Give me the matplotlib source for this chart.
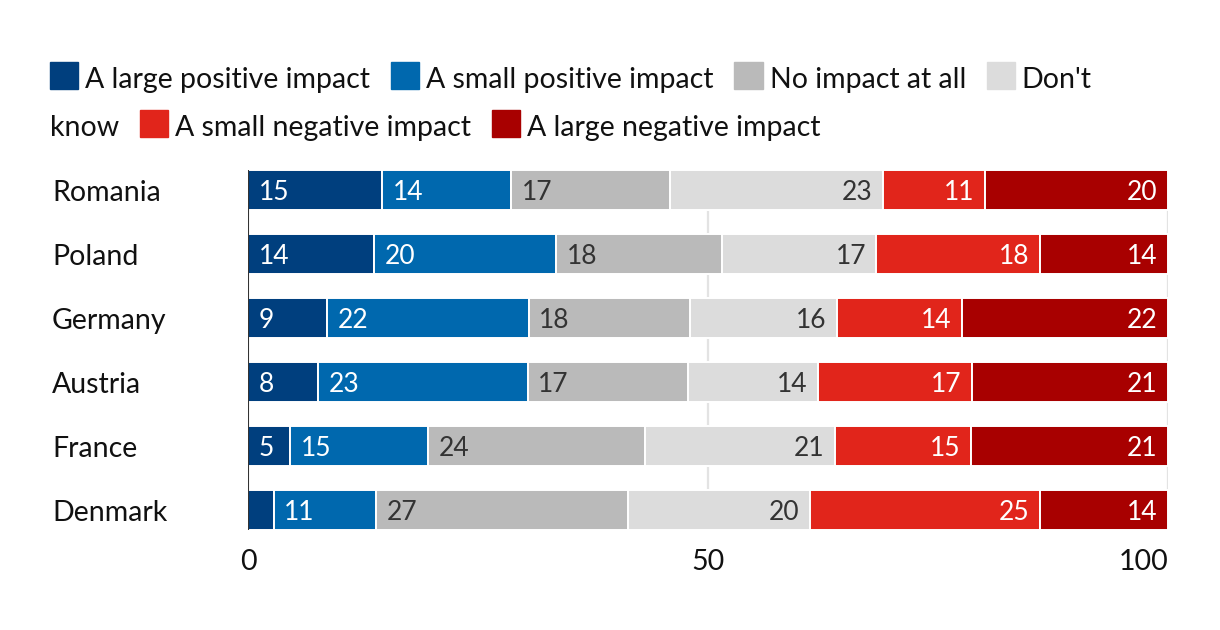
import matplotlib.pyplot as plt
from matplotlib.patches import Rectangle

# Datos
countries = ["Romania", "Poland", "Germany", "Austria", "France", "Denmark"]
categories = ["A large positive impact", "A small positive impact", "No impact at all",
              "Don't know", "A small negative impact", "A large negative impact"]
large_pos = [14.6, 13.7, 8.6, 7.6, 4.6, 2.8]
small_pos = [14.0, 19.8, 21.9, 22.8, 15.0, 11.1]
no_impact = [17.3, 18.0, 17.5, 17.4, 23.6, 27.4]
dont_know = [23.1, 16.8, 16.0, 14.2, 20.6, 19.8]
small_neg = [11.1, 17.8, 13.6, 16.7, 14.8, 25.0]
large_neg = [19.9, 13.9, 22.4, 21.3, 21.4, 13.9]
series = [large_pos, small_pos, no_impact, dont_know, small_neg, large_neg]

colors = ["#003f7e", "#0068ae", "#bababa", "#dcdcdc", "#e1251b", "#a80000"]
text_colors = ["white", "white", "#333333", "#333333", "white", "white"]
xticks = [0, 50, 100]

plt.rcParams['font.family'] = ['Lato', 'DejaVu Sans']
FS = 20.5

W, H = 1220, 630
fig = plt.figure(figsize=(W / 100, H / 100), dpi=100)
ax = fig.add_axes([248 / W, 1 - 530 / H, 920 / W, 360 / H])

rows = list(range(len(countries)))
left = [0.0] * len(countries)
for k, vals in enumerate(series):
    ax.barh(rows, vals, left=left, height=0.625, color=colors[k],
            edgecolor='white', linewidth=1.4, zorder=2)
    for i, v in enumerate(vals):
        if v >= 4:
            if k < 3:
                x, dx, ha = left[i], 7.5, 'left'
            else:
                x, dx, ha = left[i] + v, -7.5, 'right'
            ax.annotate(str(int(v + 0.5)), xy=(x, i), xytext=(dx, -7.3),
                        textcoords='offset points', ha=ha, va='baseline',
                        fontsize=19, color=text_colors[k], zorder=4)
    left = [l + v for l, v in zip(left, vals)]

# Rejilla y eje
for t in xticks[1:]:
    ax.axvline(t, color='#e3e3e3', lw=1.6, zorder=0)
ax.axvline(0, color='#333333', lw=1.5, zorder=3)

ax.set_xlim(0, 100)
ax.set_ylim(len(countries) - 1 + 0.3125, -0.3125)
for s in ax.spines.values():
    s.set_visible(False)
ax.set_yticks([])
ax.set_xticks(xticks)
ax.set_xticklabels([str(t) for t in xticks], fontsize=FS, color='#111111')
ax.tick_params(axis='x', length=0, pad=14)
ax.get_xticklabels()[-1].set_ha('right')

# Países
for i, c in enumerate(countries):
    ax.annotate(c, xy=(52 / W, i), xycoords=('figure fraction', 'data'),
                xytext=(0, -8), textcoords='offset points', ha='left',
                va='baseline', fontsize=FS, color='#111111')

# Leyenda en flujo (con salto de línea como en HTML)
renderer = fig.canvas.get_renderer()


def text_width(s):
    t = fig.text(0, 0, s, fontsize=FS)
    w = t.get_window_extent(renderer).width
    t.remove()
    return w


baselines = [88, 136]
x0, xmax = 50, 1110
x, row = x0, 0
for name, col in zip(categories, colors):
    words = name.split(' ')
    if x + 35 + text_width(words[0]) > xmax:
        x, row = x0, row + 1
    fig.patches.append(Rectangle((x / W, 1 - (baselines[row] + 1) / H), 28 / W, 27 / H,
                                 transform=fig.transFigure, color=col, figure=fig))
    x += 35
    line = ''
    for w in words:
        cand = (line + ' ' + w).strip()
        if x + text_width(cand) > xmax and line:
            fig.text(x / W, 1 - baselines[row] / H, line, fontsize=FS,
                     va='baseline', color='#111111')
            x, row, line = x0, row + 1, w
        else:
            line = cand
    fig.text(x / W, 1 - baselines[row] / H, line, fontsize=FS,
             va='baseline', color='#111111')
    x += text_width(line) + 21

fig.savefig('out.png', dpi=100)
